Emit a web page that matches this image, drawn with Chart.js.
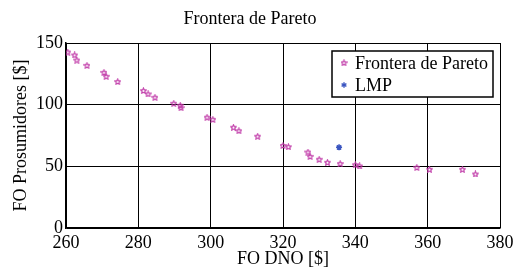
<!DOCTYPE html>
<html><head><meta charset="utf-8">
<script src="https://cdn.jsdelivr.net/npm/chart.js@4/dist/chart.umd.min.js"></script>
<style>html,body{margin:0;padding:0;background:#fff}#wrap{width:518px;height:268px}</style>
</head><body><div id="wrap"><canvas id="c" width="518" height="268"></canvas></div>
<script>
const chartTitle = "Frontera de Pareto";
const xTitle = "FO DNO [$]";
const yTitle = "FO Prosumidores [$]";
const paretoLabel = "Frontera de Pareto";
const lmpLabel = "LMP";
const paretoX = [260.5,262.4,263.0,265.8,270.5,271.1,274.3,281.4,282.7,284.6,289.8,291.6,291.8,299.0,300.6,306.3,307.8,313.0,320.0,321.5,326.9,327.5,330.0,332.3,335.8,340.0,341.2,357.0,360.5,369.6,373.2];
const paretoY = [142.7,140.3,136.2,131.9,126.2,123.0,118.7,111.4,108.7,106.0,101.1,99.5,97.6,89.8,88.1,81.7,78.9,74.4,66.9,65.9,61.6,58.1,55.7,53.3,52.2,51.3,50.3,49.2,47.6,47.6,43.8];
const lmpX = [335.5];
const lmpY = [65.4];

const PINK = '#c03aa8';
const BLUE = '#3a55c0';

function pentagram(size, color){
  const cv = document.createElement('canvas');
  cv.width = size; cv.height = size;
  const g = cv.getContext('2d');
  const cx = size/2, cy = size/2 + 0.3, R = size/2 - 0.6, r = R*0.5;
  g.beginPath();
  for(let i=0;i<10;i++){
    const a = -Math.PI/2 + i*Math.PI/5;
    const rr = i%2===0 ? R : r;
    const px = cx + rr*Math.cos(a), py = cy + rr*Math.sin(a);
    if(i===0) g.moveTo(px,py); else g.lineTo(px,py);
  }
  g.closePath();
  g.strokeStyle = color; g.lineWidth = 1.1; g.stroke();
  return cv;
}
const pinkStar = pentagram(7, PINK);

const serif = 'Liberation Serif';
Chart.defaults.font.family = serif;
Chart.defaults.color = '#000';

const legendPlugin = {
  id:'boxLegend',
  afterDraw(chart){
    const ctx = chart.ctx;
    const x0=332,y0=51,w=161,h=46;
    ctx.save();
    ctx.fillStyle='#fff';
    ctx.fillRect(x0,y0,w,h);
    ctx.strokeStyle='#000'; ctx.lineWidth=1.5;
    ctx.strokeRect(x0,y0,w,h);
    ctx.font='18px "Liberation Serif"';
    ctx.fillStyle='#000'; ctx.textBaseline='middle'; ctx.textAlign='left';
    const ds = chart.data.datasets;
    ctx.drawImage(pinkStar, 344-3.5, 62.7-3.5);
    ctx.fillText(ds[0].label, 355, 64);
    ctx.strokeStyle=BLUE; ctx.lineWidth=1.4;
    const cx=344, cy=85;
    for(let i=0;i<3;i++){
      const a=i*Math.PI/3+Math.PI/2;
      ctx.beginPath();ctx.moveTo(cx-2.8*Math.cos(a),cy-2.8*Math.sin(a));ctx.lineTo(cx+2.8*Math.cos(a),cy+2.8*Math.sin(a));ctx.stroke();
    }
    ctx.fillText(ds[1].label, 355, 86.5);
    ctx.restore();
  }
};

new Chart(document.getElementById('c'), {
  type:'scatter',
  data:{datasets:[
    {label:paretoLabel, data:paretoX.map((x,i)=>({x:x,y:paretoY[i]})), pointStyle:pinkStar, radius:3.5},
    {label:lmpLabel, data:lmpX.map((x,i)=>({x:x,y:lmpY[i]})), pointStyle:'star', radius:3, borderColor:BLUE, backgroundColor:BLUE, borderWidth:1.5}
  ]},
  options:{
    responsive:false, animation:false,
    layout:{padding:{left:0,right:18,top:0,bottom:0}},
    plugins:{
      legend:{display:false},
      tooltip:{enabled:false},
      title:{display:true,text:chartTitle,color:'#000',font:{family:serif,size:18,weight:'normal',lineHeight:1.2},padding:{top:8.2,bottom:13.2}}
    },
    scales:{
      x:{type:'linear',min:260,max:380,
        ticks:{stepSize:20,color:'#000',font:{family:serif,size:18,lineHeight:1.2},padding:4},
        grid:{color:'#000',lineWidth:1,drawTicks:false},
        border:{color:'#000',width:1.5},
        title:{display:true,text:xTitle,color:'#000',font:{family:serif,size:18,lineHeight:1},padding:{top:0,bottom:0}},
        afterFit(s){s.height=40;}
      },
      y:{type:'linear',min:0,max:150,
        ticks:{stepSize:50,color:'#000',font:{family:serif,size:18},padding:3},
        grid:{color:'#000',lineWidth:1,drawTicks:false},
        border:{color:'#000',width:1.5},
        title:{display:true,text:yTitle,color:'#000',font:{family:serif,size:18,lineHeight:1.2},padding:{top:10.7,bottom:0}},
        afterFit(s){s.width=66;}
      }
    }
  },
  plugins:[legendPlugin]
});
</script></body></html>
